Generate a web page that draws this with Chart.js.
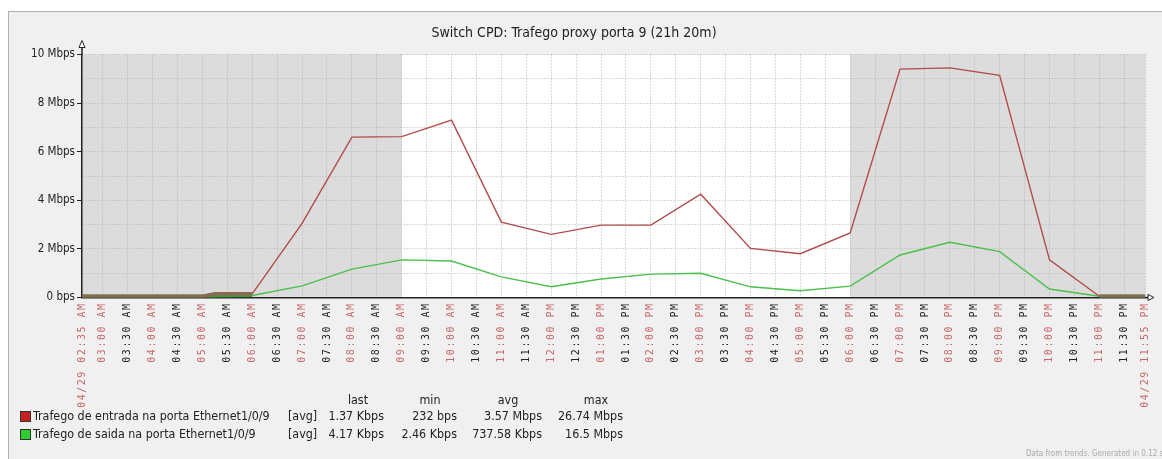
<!DOCTYPE html>
<html>
<head>
<meta charset="utf-8">
<script src="https://cdn.jsdelivr.net/npm/chart.js@4.4.1/dist/chart.umd.min.js"></script>
<style>
  html, body { margin: 0; padding: 0; background: #fff; overflow: hidden; }
  #frame { position: absolute; left: 8px; top: 11px; width: 1160px; height: 460px;
           border: 1px solid #b0b0b0; background: #f0f0f0; }
  #wrap { position: absolute; left: 0; top: 0; width: 1162px; height: 459px; }
  #legend { position: absolute; left: 0; top: 0; width: 700px; height: 459px;
            font: 12.4px 'DejaVu Sans Condensed', 'DejaVu Sans', sans-serif; color: #222; }
  #legend span { position: absolute; white-space: nowrap; line-height: 14px; }
  #legend .box { width: 9px; height: 9px; border: 1px solid #333; }
  #footer { position: absolute; left: 1026px; top: 449px; font: 8px 'DejaVu Sans Condensed', sans-serif;
            color: #aaa; white-space: nowrap; }
</style>
</head>
<body>
<div id="frame"></div>
<div id="wrap"><canvas id="myChart" width="1162" height="459"></canvas></div>
<div id="legend"></div>
<div id="footer">Data from trends. Generated in 0.12 s</div>
<script>
// times of the plotted points (hourly trends)
const pointTimes = ['02:35 AM', '03:00 AM', '04:00 AM', '05:00 AM', '05:15 AM', '06:00 AM', '07:00 AM', '08:00 AM',
    '09:00 AM', '10:00 AM', '11:00 AM', '12:00 PM', '01:00 PM', '02:00 PM', '03:00 PM', '04:00 PM', '05:00 PM',
    '06:00 PM', '07:00 PM', '08:00 PM', '09:00 PM', '10:00 PM', '11:00 PM', '11:55 PM'];
// Mbps
const inbound = [0.05, 0.05, 0.05, 0.05, 0.15, 0.15, 3.05, 6.6, 6.62, 7.3, 3.1, 2.6, 2.98, 2.98, 4.25, 2.02, 1.8,
    2.66, 9.4, 9.45, 9.14, 1.55, 0.05, 0.05];
const outbound = [0.05, 0.05, 0.05, 0.05, 0.05, 0.08, 0.48, 1.17, 1.55, 1.5, 0.85, 0.44, 0.76, 0.96, 1.0, 0.44, 0.28,
    0.47, 1.75, 2.27, 1.89, 0.35, 0.05, 0.05];

const tickLabels = ['04/29 02:35 AM', '03:00 AM', '03:30 AM', '04:00 AM', '04:30 AM', '05:00 AM', '05:30 AM', '06:00 AM',
    '06:30 AM', '07:00 AM', '07:30 AM', '08:00 AM', '08:30 AM', '09:00 AM', '09:30 AM', '10:00 AM', '10:30 AM',
    '11:00 AM', '11:30 AM', '12:00 PM', '12:30 PM', '01:00 PM', '01:30 PM', '02:00 PM', '02:30 PM', '03:00 PM',
    '03:30 PM', '04:00 PM', '04:30 PM', '05:00 PM', '05:30 PM', '06:00 PM', '06:30 PM', '07:00 PM', '07:30 PM',
    '08:00 PM', '08:30 PM', '09:00 PM', '09:30 PM', '10:00 PM', '10:30 PM', '11:00 PM', '11:30 PM', '04/29 11:55 PM'];

const workHours = ['09:00 AM', '06:00 PM']; // white (working time) band

const seriesNames = ['Trafego de entrada na porta Ethernet1/0/9', 'Trafego de saida na porta Ethernet1/0/9'];
const seriesColors = ['#b24c4c', '#4cbf4c'];
const boxColors = ['#c8201e', '#2ecc2e'];
const statHeads = ['last', 'min', 'avg', 'max'];
const inboundStats = ['1.37 Kbps', '232 bps', '3.57 Mbps', '26.74 Mbps'];
const outboundStats = ['4.17 Kbps', '2.46 Kbps', '737.58 Kbps', '16.5 Mbps'];

// minutes since the start of the period (02:35 AM)
function toMinutes(label) {
    const parts = label.split(' ');
    const hm = parts[parts.length - 2].split(':');
    let h = parseInt(hm[0]) % 12;
    if (parts[parts.length - 1] === 'PM') h += 12;
    return h * 60 + parseInt(hm[1]) - 155;
}

const tickValues = tickLabels.map(toMinutes);

function points(values) {
    return values.map((v, i) => ({ x: toMinutes(pointTimes[i]), y: v }));
}

// thicker line where the traffic is almost nothing (min/max band in zabbix)
function lowWidth(ctx) {
    return (ctx.p0.parsed.y < 0.2 && ctx.p1.parsed.y < 0.2) ? 3.5 : undefined;
}

const bands = {
    id: 'bands',
    beforeDraw(chart) {
        const { ctx, chartArea } = chart;
        const x = chart.scales.x;
        const a = x.getPixelForValue(toMinutes(workHours[0]));
        const b = x.getPixelForValue(toMinutes(workHours[1]));
        ctx.save();
        ctx.fillStyle = '#dcdcdc';
        ctx.fillRect(chartArea.left, chartArea.top, chartArea.width, chartArea.height);
        ctx.fillStyle = '#ffffff';
        ctx.fillRect(a, chartArea.top, b - a, chartArea.height);
        ctx.restore();
    },
    afterDatasetsDraw(chart) {
        chart.ctx.letterSpacing = '1.5px'; // zabbix spaced x labels
    },
    afterDraw(chart) {
        const { ctx, chartArea } = chart;
        ctx.letterSpacing = '0px';
        ctx.save();
        ctx.strokeStyle = '#222';
        ctx.lineWidth = 1.5;
        ctx.beginPath();
        ctx.moveTo(chartArea.left, chartArea.top);
        ctx.lineTo(chartArea.left, chartArea.top - 9);
        ctx.moveTo(chartArea.right, chartArea.bottom);
        ctx.lineTo(chartArea.right + 4, chartArea.bottom);
        ctx.stroke();
        ctx.lineWidth = 1;
        ctx.fillStyle = '#fff';
        ctx.beginPath();
        ctx.moveTo(chartArea.left, chartArea.top - 14);
        ctx.lineTo(chartArea.left - 3, chartArea.top - 7);
        ctx.lineTo(chartArea.left + 3, chartArea.top - 7);
        ctx.closePath();
        ctx.fill();
        ctx.stroke();
        ctx.beginPath();
        ctx.moveTo(chartArea.right + 9, chartArea.bottom);
        ctx.lineTo(chartArea.right + 3, chartArea.bottom - 3);
        ctx.lineTo(chartArea.right + 3, chartArea.bottom + 3);
        ctx.closePath();
        ctx.fill();
        ctx.stroke();
        ctx.restore();
    }
};

Chart.defaults.font.family = "'DejaVu Sans Condensed', 'DejaVu Sans', sans-serif";
Chart.defaults.color = '#222';

var ctx = document.getElementById('myChart').getContext('2d');
var myChart = new Chart(ctx, {
    type: 'line',
    data: {
        datasets: [{
            label: seriesNames[0],
            data: points(inbound),
            borderColor: seriesColors[0],
            borderWidth: 1.4,
            pointRadius: 0,
            tension: 0,
            segment: { borderWidth: lowWidth, borderColor: c => lowWidth(c) ? '#8a6a50' : undefined }
        }, {
            label: seriesNames[1],
            data: points(outbound),
            borderColor: seriesColors[1],
            borderWidth: 1.4,
            pointRadius: 0,
            tension: 0,
            segment: { borderWidth: lowWidth, borderColor: c => lowWidth(c) ? '#3f9a3f' : undefined }
        }]
    },
    options: {
        responsive: false,
        animation: false,
        layout: { padding: { left: 0, right: 14, top: 0, bottom: 0 } },
        plugins: {
            legend: { display: false },
            tooltip: { enabled: false },
            title: {
                display: true,
                text: 'Switch CPD: Trafego proxy porta 9 (21h 20m)',
                color: '#222',
                font: { size: 14, weight: 'normal', lineHeight: 1.2 },
                padding: { top: 25, bottom: 12.7 }
            }
        },
        scales: {
            x: {
                type: 'linear',
                min: 0,
                max: tickValues[tickValues.length - 1],
                afterBuildTicks: scale => { scale.ticks = tickValues.map(v => ({ value: v })); },
                afterFit: scale => { scale.height = 161.5; },
                grid: { color: '#b4b4b4', drawTicks: false },
                border: { color: '#222', width: 1.5, dash: [1, 2] },
                ticks: {
                    autoSkip: false,
                    minRotation: 90,
                    maxRotation: 90,
                    padding: 5,
                    z: 1,
                    font: { family: "'DejaVu Sans Mono', monospace", size: 10 },
                    color: c => tickLabels[c.index].includes(':30') ? '#222' : '#c96868',
                    callback: (value, index) => tickLabels[index]
                }
            },
            y: {
                min: 0,
                max: 10,
                afterFit: scale => { scale.width = 82; },
                grid: {
                    color: '#b4b4b4',
                    tickLength: 5,
                    tickColor: c => c.tick && c.tick.value % 2 ? 'rgba(0,0,0,0)' : '#222'
                },
                border: { color: '#222', width: 1.5, dash: [1, 2] },
                ticks: {
                    stepSize: 1,
                    padding: 2,
                    font: { size: 11.5 },
                    callback: v => v % 2 ? '' : (v === 0 ? '0 bps' : v + ' Mbps')
                }
            }
        }
    },
    plugins: [bands]
});

// legend table under the chart
const legend = document.getElementById('legend');
function addText(text, x, y, align) {
    const s = document.createElement('span');
    s.textContent = text;
    s.style.top = y + 'px';
    if (align === 'right') s.style.right = (700 - x) + 'px';
    else if (align === 'center') { s.style.left = (x - 40) + 'px'; s.style.width = '80px'; s.style.textAlign = 'center'; }
    else s.style.left = x + 'px';
    legend.appendChild(s);
    return s;
}
const colCenters = [358, 430, 508, 596];
const colRights = [384, 457, 542, 623];
statHeads.forEach((h, i) => addText(h, colCenters[i], 393, 'center'));
[inboundStats, outboundStats].forEach((stats, r) => {
    const y = 409 + r * 18;
    const box = document.createElement('span');
    box.className = 'box';
    box.style.left = '20px';
    box.style.top = (y + 2) + 'px';
    box.style.background = boxColors[r];
    legend.appendChild(box);
    addText(seriesNames[r], 33, y);
    addText('[avg]', 288, y);
    stats.forEach((s, i) => addText(s, colRights[i], y, 'right'));
});
</script>
</body>
</html>
